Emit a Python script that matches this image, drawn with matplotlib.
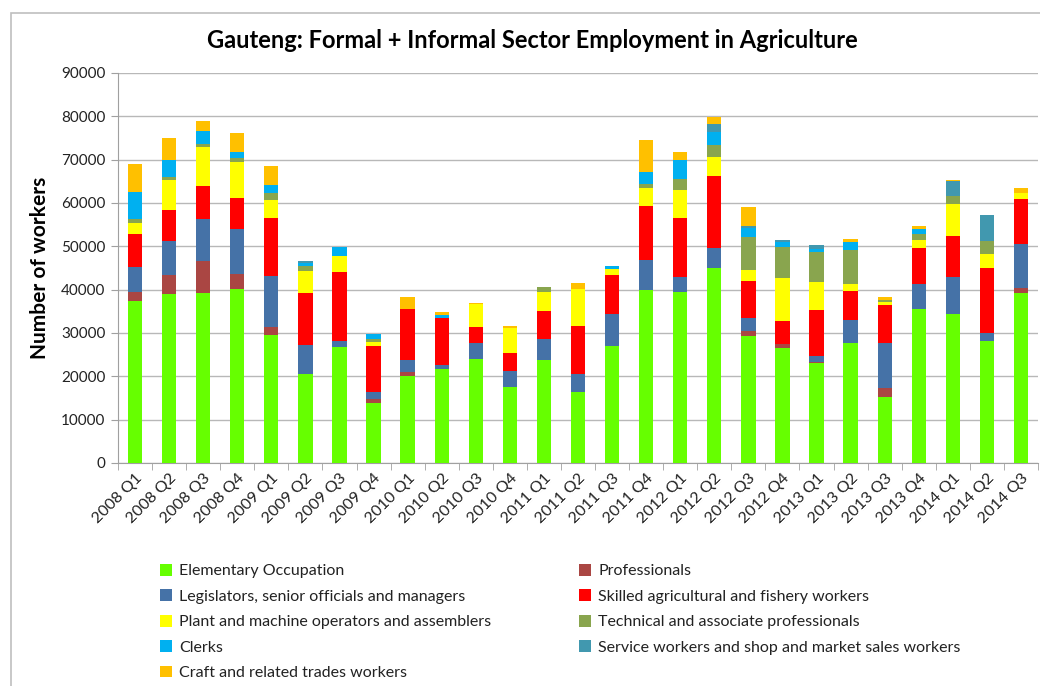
import matplotlib.pyplot as plt
import numpy as np
from matplotlib.patches import Rectangle, Patch

plt.rcParams['font.family'] = ['Lato', 'DejaVu Sans']

quarters = [f"{y} Q{q}" for y in range(2008, 2015) for q in range(1, 5)][:27]

# values in thousands of workers
elementary = [37.4, 39.1, 39.2, 40.2, 29.5, 20.6, 26.7, 13.9, 20.0, 21.7, 24.0, 17.5, 23.8, 16.5,
              26.9, 39.9, 39.4, 45.1, 29.3, 26.5, 23.1, 27.8, 15.2, 35.5, 34.5, 28.2, 39.3]
professionals = [2.1, 4.3, 7.4, 3.5, 1.8, 0, 0, 0.9, 1.1, 0, 0, 0, 0, 0,
                 0, 0, 0, 0, 1.1, 1.0, 0.3, 0, 2.1, 0, 0, 0, 1.2]
legislators = [5.7, 7.8, 9.7, 10.2, 11.9, 6.6, 1.4, 1.7, 2.6, 0.9, 3.8, 3.7, 4.8, 4.1,
               7.6, 7.0, 3.5, 4.6, 3.1, 0, 1.3, 5.1, 10.3, 5.8, 8.4, 1.7, 10.1]
skilled = [7.6, 7.2, 7.6, 7.3, 13.3, 12.1, 15.9, 10.4, 11.8, 10.9, 3.7, 4.2, 6.5, 11.1,
           9.0, 12.4, 13.6, 16.5, 8.4, 5.3, 10.6, 6.7, 8.9, 8.4, 9.5, 15.0, 10.4]
plant = [2.7, 6.9, 9.0, 8.3, 4.2, 4.9, 3.8, 1.0, 0, 0, 5.1, 5.8, 4.4, 8.5,
         1.3, 4.2, 6.6, 4.4, 2.7, 9.9, 6.5, 1.6, 0.6, 1.8, 7.3, 3.3, 1.4]
technical = [0.8, 0.6, 0.8, 0.8, 1.7, 1.3, 0, 0.7, 0, 0, 0, 0, 1.2, 0,
             0, 0.9, 2.4, 2.7, 7.6, 7.2, 6.8, 8.0, 0.6, 1.3, 2.0, 3.0, 0]
clerks = [6.2, 4.0, 2.9, 1.5, 1.8, 0.6, 2.0, 1.1, 0, 0.7, 0, 0, 0, 0,
          0.7, 2.7, 4.5, 3.1, 2.1, 1.0, 0.8, 1.9, 0, 1.2, 0, 0, 0]
service = [0, 0, 0, 0, 0, 0.6, 0, 0, 0, 0, 0, 0, 0, 0,
           0, 0, 0, 1.8, 0.4, 0.5, 0.8, 0, 0, 0, 3.3, 6.0, 0]
craft = [6.6, 5.2, 2.4, 4.4, 4.3, 0, 0, 0, 2.7, 0.6, 0.3, 0.5, 0, 1.4,
         0, 7.4, 1.8, 1.6, 4.3, 0, 0, 0.5, 0.6, 0.6, 0.4, 0, 1.1]

series = [
    ("Elementary Occupation", elementary, '#66ff00'),
    ("Professionals", professionals, '#aa4643'),
    ("Legislators, senior officials and managers", legislators, '#4572a7'),
    ("Skilled agricultural and fishery workers", skilled, '#ff0000'),
    ("Plant and machine operators and assemblers", plant, '#ffff00'),
    ("Technical and associate professionals", technical, '#89a54e'),
    ("Clerks", clerks, '#00b0f0'),
    ("Service workers and shop and market sales workers", service, '#4198af'),
    ("Craft and related trades workers", craft, '#ffc000'),
]

fig = plt.figure(figsize=(10.4, 6.86), dpi=100)
ax = fig.add_axes([118/1040, 1-463/686, (1038-118)/1040, (463-73)/686])

# outer chart frame
fig.patches.append(Rectangle((11/1040, -0.01), 1.0, 1-13/686+0.01, transform=fig.transFigure,
                             fill=False, edgecolor='#bfbfbf', linewidth=1.2))

x = np.arange(len(quarters))
bottom = np.zeros(len(quarters))
for name, vals, col in series:
    v = np.array(vals) * 1000
    ax.bar(x, v, 0.42, bottom=bottom, color=col, label=name, zorder=3)
    bottom += v

ax.set_xlim(-0.5, len(quarters) - 0.5)
ax.set_ylim(0, 90000)
ax.set_yticks(range(0, 90001, 10000))
ax.tick_params(axis='y', labelsize=11, length=5, color='#a0a0a0', pad=4, labelcolor='#222222')
ax.grid(axis='y', color='#b8b8b8', linewidth=1, zorder=0)

ax.set_xticks(x)
ax.set_xticklabels(quarters, rotation=45, ha='right', rotation_mode='anchor', fontsize=11.5, color='#222222')
ax.tick_params(axis='x', length=0, pad=6)
ax.set_xticks(np.arange(-0.5, len(quarters)), minor=True)
ax.tick_params(axis='x', which='minor', length=5, color='#a0a0a0')

for s in ['top', 'right']:
    ax.spines[s].set_visible(False)
ax.spines['left'].set_color('#a0a0a0')
ax.spines['bottom'].set_color('#a0a0a0')

ax.set_ylabel('Number of workers', fontsize=15, fontweight='bold', labelpad=8)
fig.text(532/1040, 1-40/686, 'Gauteng: Formal + Informal Sector Employment in Agriculture',
         ha='center', va='center', fontsize=17, fontweight='bold')

# legend: two columns, filled row by row like Excel
handles = [Patch(facecolor=c) for _, _, c in series]
labels = [n for n, _, _ in series]
leg_kw = dict(loc='upper left', frameon=False, fontsize=11.5, handlelength=0.75, handleheight=0.75,
              handletextpad=0.45, labelspacing=0.69, borderaxespad=0, borderpad=0)
left = [0, 2, 4, 6, 8]
right = [1, 3, 5, 7]
leg1 = fig.legend([handles[i] for i in left], [labels[i] for i in left],
                  bbox_to_anchor=(160/1040, 1-564/686), **leg_kw)
leg2 = fig.legend([handles[i] for i in right], [labels[i] for i in right],
                  bbox_to_anchor=(579/1040, 1-564/686), **leg_kw)
for leg in (leg1, leg2):
    for t in leg.get_texts():
        t.set_color('#222222')

fig.savefig('out.png', dpi=100)
